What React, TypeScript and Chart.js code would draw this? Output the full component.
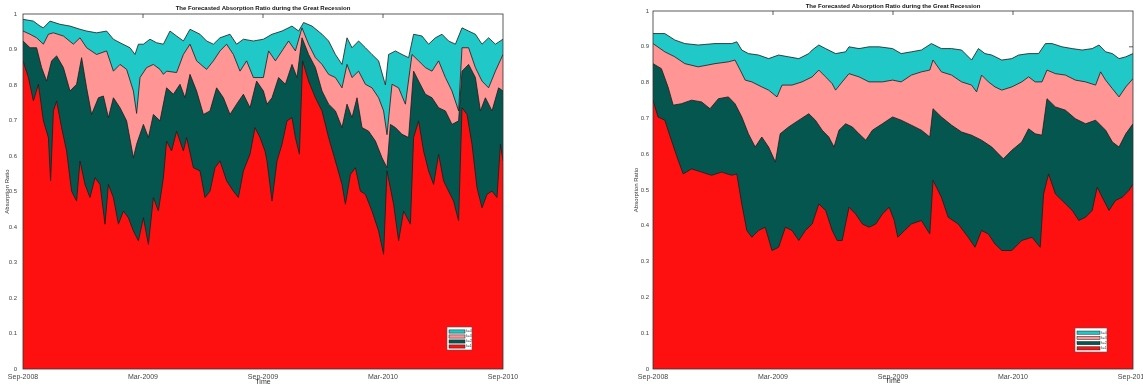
import React, { useEffect, useRef } from "react";
import { Chart, registerables } from "chart.js";

Chart.register(...registerables);

const chartTitle = "The Forecasted Absorption Ratio during the Great Recession";
const xAxisTitle = "Time";
const yAxisTitle = "Absorption Ratio";
const xTickLabels = ["Sep-2008", "Mar-2009", "Sep-2009", "Mar-2010", "Sep-2010"];
const seriesNames = ["k=1", "k=2", "k=3", "k=4"];

// ---------- Left panel (months since Sep-2008, cumulative absorption ratio) ----------
const leftK1Months = [0, 0.27, 0.52, 0.77, 1.02, 1.27, 1.38, 1.52, 1.68, 1.93, 2.18, 2.43, 2.68, 2.85, 3.1, 3.35, 3.6, 3.85, 4.1, 4.27, 4.52, 4.77, 5.02, 5.27, 5.52, 5.77, 6.02, 6.27, 6.52, 6.77, 7.02, 7.18, 7.43, 7.68, 8.02, 8.18, 8.52, 8.85, 9.1, 9.35, 9.6, 9.85, 10.18, 10.52, 10.77, 11.02, 11.35, 11.6, 11.85, 12.1,
  12.2, 12.45, 12.7, 12.95, 13.2, 13.45, 13.62, 13.82, 13.98, 14.28, 14.62, 14.95, 15.28, 15.62, 15.95, 16.12, 16.37, 16.62, 16.87, 17.12, 17.45, 17.78, 18.03, 18.2, 18.53, 18.78, 19.03, 19.37, 19.53, 19.78, 20.03, 20.28, 20.53, 20.78, 21.03, 21.28, 21.53, 21.78, 21.95, 22.2, 22.45, 22.7, 22.95, 23.2, 23.45, 23.7, 23.87, 24];
const leftK1Ratio = [0.868, 0.821, 0.755, 0.802, 0.699, 0.652, 0.53, 0.727, 0.755, 0.68, 0.614, 0.501, 0.473, 0.586, 0.52, 0.483, 0.539, 0.52, 0.408, 0.52, 0.483, 0.408, 0.445, 0.426, 0.389, 0.361, 0.426, 0.351, 0.483, 0.445, 0.539, 0.642, 0.614, 0.67, 0.614, 0.652, 0.567, 0.558, 0.483, 0.501, 0.567, 0.586, 0.53, 0.501, 0.483, 0.558, 0.605, 0.68, 0.652, 0.614,
  0.586, 0.473, 0.586, 0.633, 0.699, 0.708, 0.652, 0.605, 0.868, 0.811, 0.764, 0.727, 0.652, 0.586, 0.52, 0.464, 0.548, 0.567, 0.501, 0.492, 0.445, 0.389, 0.323, 0.558, 0.464, 0.361, 0.445, 0.408, 0.652, 0.699, 0.614, 0.558, 0.52, 0.605, 0.53, 0.501, 0.473, 0.417, 0.736, 0.717, 0.633, 0.511, 0.454, 0.492, 0.501, 0.483, 0.633, 0.586];

const leftK2Months = [0, 0.35, 0.68, 0.93, 1.18, 1.43, 1.68, 2.02, 2.35, 2.68, 2.93, 3.18, 3.43, 3.77, 4.02, 4.27, 4.52, 4.85, 5.18, 5.52, 5.68, 6.02, 6.27, 6.52, 6.85, 7.18, 7.52, 7.85, 8.1, 8.35, 8.68, 9.02, 9.35, 9.68, 10.02, 10.35, 10.68, 11.02, 11.35, 11.68, 12.02,
  12.2, 12.45, 12.78, 13.12, 13.45, 13.7, 13.95, 14.28, 14.62, 14.95, 15.28, 15.62, 15.95, 16.2, 16.45, 16.7, 16.95, 17.28, 17.62, 17.95, 18.2, 18.37, 18.62, 18.95, 19.28, 19.53, 19.78, 20.12, 20.45, 20.78, 21.12, 21.45, 21.78, 21.95, 22.28, 22.62, 22.87, 23.12, 23.45, 23.78, 24];
const leftK2Ratio = [0.924, 0.905, 0.905, 0.849, 0.811, 0.868, 0.882, 0.849, 0.783, 0.802, 0.877, 0.792, 0.717, 0.764, 0.769, 0.708, 0.764, 0.736, 0.699, 0.595, 0.633, 0.689, 0.652, 0.717, 0.699, 0.792, 0.774, 0.802, 0.764, 0.83, 0.783, 0.717, 0.727, 0.792, 0.764, 0.717, 0.746, 0.774, 0.736, 0.811, 0.783,
  0.746, 0.764, 0.821, 0.802, 0.858, 0.821, 0.933, 0.886, 0.849, 0.783, 0.746, 0.727, 0.68, 0.746, 0.708, 0.764, 0.68, 0.67, 0.642, 0.595, 0.567, 0.689, 0.68, 0.661, 0.652, 0.839, 0.811, 0.774, 0.764, 0.736, 0.727, 0.689, 0.699, 0.839, 0.858, 0.821, 0.727, 0.764, 0.727, 0.792, 0.783];

const leftK3Months = [0, 0.35, 0.68, 1.02, 1.27, 1.52, 2.02, 2.52, 2.85, 3.18, 3.68, 4.18, 4.52, 4.85, 5.18, 5.52, 5.68, 5.85, 6.18, 6.52, 6.85, 7.02, 7.18, 7.68, 8.02, 8.35, 8.68, 9.18, 9.52, 9.85, 10.18, 10.52, 10.85, 11.18, 11.52, 12.02,
  12.28, 12.62, 12.95, 13.28, 13.62, 13.95, 14.28, 14.62, 14.95, 15.28, 15.62, 15.95, 16.2, 16.45, 16.78, 17.12, 17.45, 17.78, 18.03, 18.2, 18.45, 18.78, 19.12, 19.45, 19.78, 20.12, 20.45, 20.78, 21.12, 21.45, 21.78, 21.95, 22.28, 22.62, 22.95, 23.28, 23.62, 24];
const leftK3Ratio = [0.952, 0.943, 0.933, 0.915, 0.943, 0.947, 0.938, 0.915, 0.933, 0.905, 0.886, 0.896, 0.839, 0.858, 0.844, 0.783, 0.72, 0.821, 0.849, 0.858, 0.844, 0.83, 0.839, 0.835, 0.886, 0.915, 0.868, 0.844, 0.868, 0.896, 0.915, 0.886, 0.839, 0.868, 0.821, 0.821,
  0.896, 0.868, 0.896, 0.924, 0.896, 0.961, 0.915, 0.877, 0.858, 0.83, 0.821, 0.792, 0.858, 0.821, 0.839, 0.802, 0.792, 0.764, 0.727, 0.66, 0.802, 0.792, 0.746, 0.886, 0.868, 0.849, 0.839, 0.868, 0.821, 0.783, 0.727, 0.905, 0.905, 0.849, 0.811, 0.792, 0.839, 0.886];

const leftK4Months = [0, 0.52, 0.85, 1.02, 1.35, 1.85, 2.35, 2.85, 3.18, 3.68, 4.18, 4.52, 4.85, 5.35, 5.6, 5.77, 6.02, 6.35, 6.68, 7.02, 7.35, 7.68, 8.02, 8.35, 8.85, 9.18, 9.52, 9.85, 10.35, 10.68, 11.02, 11.52, 12.02,
  12.45, 12.95, 13.45, 13.78, 14.03, 14.45, 14.95, 15.28, 15.62, 15.95, 16.2, 16.45, 16.78, 17.12, 17.45, 17.78, 18.12, 18.28, 18.62, 18.95, 19.28, 19.53, 19.95, 20.28, 20.62, 20.95, 21.28, 21.62, 21.95, 22.28, 22.62, 22.95, 23.28, 23.62, 24];
const leftK4Ratio = [0.985, 0.98, 0.966, 0.961, 0.98, 0.971, 0.966, 0.957, 0.952, 0.947, 0.952, 0.929, 0.919, 0.905, 0.886, 0.915, 0.915, 0.929, 0.919, 0.915, 0.952, 0.938, 0.924, 0.957, 0.943, 0.924, 0.915, 0.933, 0.943, 0.915, 0.929, 0.924, 0.929,
  0.943, 0.952, 0.966, 0.952, 0.976, 0.966, 0.943, 0.924, 0.886, 0.858, 0.933, 0.905, 0.924, 0.905, 0.886, 0.868, 0.8, 0.886, 0.896, 0.886, 0.877, 0.943, 0.938, 0.915, 0.933, 0.943, 0.924, 0.915, 0.961, 0.952, 0.943, 0.915, 0.933, 0.915, 0.929];

// ---------- Right panel ----------
const rightK1Months = [0, 0.25, 0.59, 0.92, 1.26, 1.51, 1.93, 2.43, 2.93, 3.43, 3.94, 4.19, 4.44, 4.69, 4.94, 5.28, 5.61, 5.95, 6.28, 6.62, 6.95, 7.29, 7.62, 7.96, 8.29, 8.63, 8.96, 9.21, 9.46, 9.8, 10.13, 10.47, 10.8, 11.14, 11.47, 11.81, 12.06,
  12.24, 12.58, 12.92, 13.42, 13.84, 14.0, 14.42, 14.76, 15.26, 15.76, 16.1, 16.43, 16.77, 17.1, 17.44, 17.94, 18.44, 18.95, 19.36, 19.53, 19.78, 20.12, 20.45, 20.96, 21.29, 21.63, 21.96, 22.21, 22.46, 22.8, 23.13, 23.47, 23.8, 24];
const rightK1Ratio = [0.751, 0.704, 0.695, 0.639, 0.583, 0.545, 0.559, 0.55, 0.541, 0.55, 0.541, 0.545, 0.461, 0.387, 0.368, 0.387, 0.396, 0.331, 0.34, 0.396, 0.387, 0.359, 0.387, 0.405, 0.461, 0.443, 0.387, 0.359, 0.359, 0.452, 0.433, 0.405, 0.396, 0.405, 0.433, 0.452, 0.415,
  0.368, 0.387, 0.405, 0.415, 0.377, 0.527, 0.48, 0.424, 0.405, 0.368, 0.34, 0.387, 0.377, 0.349, 0.331, 0.331, 0.359, 0.368, 0.34, 0.489, 0.545, 0.489, 0.471, 0.443, 0.415, 0.424, 0.443, 0.508, 0.48, 0.443, 0.471, 0.48, 0.499, 0.517];

const rightK2Months = [0, 0.42, 0.75, 1.01, 1.42, 1.93, 2.43, 2.85, 3.27, 3.77, 4.1, 4.44, 4.77, 5.11, 5.44, 5.78, 6.12, 6.36, 6.78, 7.29, 7.79, 8.12, 8.46, 8.79, 9.05, 9.3, 9.63, 9.97, 10.3, 10.64, 10.97, 11.47, 11.98,
  12.41, 12.92, 13.42, 13.84, 14.0, 14.42, 14.93, 15.43, 15.93, 16.43, 16.94, 17.27, 17.52, 17.94, 18.44, 18.78, 19.11, 19.45, 19.7, 20.12, 20.62, 21.12, 21.63, 22.13, 22.63, 22.97, 23.3, 23.64, 24];
const rightK2Ratio = [0.853, 0.839, 0.788, 0.737, 0.741, 0.751, 0.746, 0.727, 0.755, 0.76, 0.741, 0.704, 0.657, 0.62, 0.648, 0.62, 0.578, 0.657, 0.676, 0.695, 0.713, 0.695, 0.667, 0.648, 0.62, 0.667, 0.685, 0.676, 0.657, 0.639, 0.667, 0.685, 0.704,
  0.695, 0.681, 0.667, 0.648, 0.727, 0.704, 0.681, 0.662, 0.653, 0.639, 0.62, 0.601, 0.587, 0.611, 0.634, 0.671, 0.657, 0.653, 0.755, 0.732, 0.723, 0.699, 0.685, 0.695, 0.667, 0.634, 0.62, 0.657, 0.685];

const rightK3Months = [0, 0.59, 1.09, 1.59, 2.26, 3.1, 3.77, 4.1, 4.36, 4.61, 4.94, 5.44, 5.78, 6.2, 6.45, 6.95, 7.45, 7.96, 8.29, 8.63, 8.96, 9.13, 9.46, 9.8, 10.3, 10.8, 11.47, 11.98,
  12.41, 12.92, 13.42, 13.84, 14.0, 14.42, 14.93, 15.43, 15.93, 16.18, 16.43, 16.77, 17.1, 17.44, 17.94, 18.44, 18.78, 19.11, 19.45, 19.7, 20.12, 20.62, 21.12, 21.63, 22.13, 22.38, 22.63, 22.97, 23.3, 23.64, 24];
const rightK3Ratio = [0.909, 0.886, 0.872, 0.853, 0.844, 0.853, 0.858, 0.863, 0.835, 0.807, 0.802, 0.788, 0.779, 0.76, 0.793, 0.793, 0.802, 0.816, 0.835, 0.816, 0.797, 0.779, 0.802, 0.825, 0.816, 0.802, 0.802, 0.807,
  0.802, 0.821, 0.83, 0.835, 0.863, 0.83, 0.821, 0.802, 0.793, 0.774, 0.821, 0.802, 0.788, 0.779, 0.788, 0.802, 0.816, 0.802, 0.802, 0.835, 0.825, 0.821, 0.807, 0.802, 0.793, 0.83, 0.807, 0.783, 0.76, 0.788, 0.811];

const rightK4Months = [0, 0.59, 1.09, 1.59, 2.26, 3.1, 3.94, 4.19, 4.44, 4.77, 5.28, 5.78, 6.28, 6.78, 7.29, 7.79, 7.96, 8.29, 8.63, 9.13, 9.63, 9.8, 10.3, 10.8, 11.31, 11.98,
  12.41, 12.92, 13.42, 13.92, 14.42, 14.93, 15.43, 15.93, 16.27, 16.6, 16.94, 17.44, 17.94, 18.28, 18.78, 19.28, 19.62, 19.95, 20.45, 20.96, 21.46, 21.96, 22.3, 22.63, 22.97, 23.3, 23.64, 24];
const rightK4Ratio = [0.937, 0.937, 0.919, 0.909, 0.905, 0.909, 0.909, 0.914, 0.891, 0.881, 0.877, 0.867, 0.877, 0.872, 0.867, 0.881, 0.891, 0.905, 0.895, 0.881, 0.886, 0.9, 0.895, 0.9, 0.9, 0.895,
  0.881, 0.886, 0.891, 0.909, 0.895, 0.895, 0.891, 0.863, 0.895, 0.881, 0.877, 0.863, 0.867, 0.877, 0.881, 0.881, 0.909, 0.909, 0.9, 0.895, 0.891, 0.895, 0.905, 0.886, 0.881, 0.867, 0.872, 0.881];

// ---------- Styling ----------
const FONT = "'Liberation Sans', Arial, Helvetica, sans-serif";
const FILLS = ["#ff1010", "#05564f", "#ff9595", "#20c8c8"];
const EDGE = "#1c1c1c";

const leftSeries = [
  { months: leftK1Months, ratio: leftK1Ratio },
  { months: leftK2Months, ratio: leftK2Ratio },
  { months: leftK3Months, ratio: leftK3Ratio },
  { months: leftK4Months, ratio: leftK4Ratio },
];
const rightSeries = [
  { months: rightK1Months, ratio: rightK1Ratio },
  { months: rightK2Months, ratio: rightK2Ratio },
  { months: rightK3Months, ratio: rightK3Ratio },
  { months: rightK4Months, ratio: rightK4Ratio },
];

const leftLayout = {
  left: 0, width: 560, padLeft: 0, padRight: 57, padTop: 14, axisW: 23, axisH: 16, yTickPad: 6,
  yTitleX: 7, titleY: 8, timeY: 382, legendRight: 31, legendBottom: 19, legendW: 25, legendH: 23,
};
const rightLayout = {
  left: 600, width: 543, padLeft: 30, padRight: 10, padTop: 11, axisW: 23, axisH: 16, yTickPad: 4,
  yTitleX: 36, titleY: 6, timeY: 381, legendRight: 26, legendBottom: 17, legendW: 32, legendH: 24,
};

const decorPlugin = {
  id: "decor",
  beforeDatasetsDraw(chart: any, _args: any, o: any) {
    const { ctx, chartArea: a, scales } = chart;
    ctx.save();
    ctx.strokeStyle = "#333";
    ctx.lineWidth = 0.8;
    ctx.beginPath();
    for (let m = 6; m < 24; m += 6) {
      const x = scales.x.getPixelForValue(m);
      ctx.moveTo(x, a.top);
      ctx.lineTo(x, a.top + 4);
    }
    for (let v = 1; v < 10; v++) {
      const y = scales.y.getPixelForValue(v / 10);
      ctx.moveTo(a.right, y);
      ctx.lineTo(a.right - 4, y);
    }
    ctx.stroke();
    ctx.restore();
  },
  afterDatasetsDraw(chart: any, _args: any, o: any) {
    const { ctx, chartArea: a } = chart;
    ctx.save();
    ctx.strokeStyle = "#333";
    ctx.lineWidth = 0.8;
    ctx.strokeRect(a.left, a.top, a.right - a.left, a.bottom - a.top);

    // legend box
    const w = o.legendW, h = o.legendH;
    const bx = a.right - o.legendRight - w;
    const by = a.bottom - o.legendBottom - h;
    ctx.fillStyle = "#fff";
    ctx.fillRect(bx, by, w, h);
    ctx.strokeStyle = "#555";
    ctx.lineWidth = 0.6;
    ctx.strokeRect(bx, by, w, h);
    const rowH = (h - 3) / 4;
    const swW = w - 9;
    for (let r = 0; r < 4; r++) {
      const idx = 3 - r;
      const cy = by + 2 + rowH * r + rowH / 2;
      ctx.fillStyle = FILLS[idx];
      ctx.fillRect(bx + 2, cy - 1.6, swW, 3.2);
      ctx.strokeStyle = EDGE;
      ctx.lineWidth = 0.5;
      ctx.strokeRect(bx + 2, cy - 1.6, swW, 3.2);
      ctx.fillStyle = "#333";
      ctx.font = `3.5px ${FONT}`;
      ctx.textAlign = "left";
      ctx.textBaseline = "middle";
      ctx.fillText(seriesNames[idx], bx + swW + 3, cy);
    }
    ctx.restore();
  },
  afterDraw(chart: any, _args: any, o: any) {
    const { ctx, chartArea: a } = chart;
    const cx = (a.left + a.right) / 2;
    const cy = (a.top + a.bottom) / 2;
    ctx.save();
    ctx.fillStyle = "#111";
    ctx.textAlign = "center";
    ctx.textBaseline = "middle";
    ctx.font = `bold 6px ${FONT}`;
    ctx.fillText(chartTitle, cx, o.titleY);
    ctx.fillStyle = "#333";
    ctx.font = `7px ${FONT}`;
    ctx.fillText(xAxisTitle, cx, o.timeY);
    ctx.translate(o.yTitleX, cy);
    ctx.rotate(-Math.PI / 2);
    ctx.font = `6px ${FONT}`;
    ctx.fillText(yAxisTitle, 0, 0);
    ctx.restore();
  },
};

function AbsorptionPanel({ layout, series }: { layout: any; series: { months: number[]; ratio: number[] }[] }) {
  const ref = useRef<HTMLCanvasElement>(null);
  useEffect(() => {
    const canvas = ref.current;
    if (!canvas) return;
    const datasets = series.map((s, i) => ({
      label: seriesNames[i],
      data: s.months.map((m, j) => ({ x: m, y: s.ratio[j] })),
      borderColor: EDGE,
      borderWidth: 0.8,
      backgroundColor: FILLS[i],
      fill: "origin",
      pointRadius: 0,
      pointHoverRadius: 0,
      tension: 0,
    }));
    const chart = new Chart(canvas, {
      type: "line",
      data: { datasets } as any,
      options: {
        responsive: false,
        animation: false,
        devicePixelRatio: 1,
        events: [],
        layout: { padding: { left: layout.padLeft, right: layout.padRight, top: layout.padTop, bottom: 0 } },
        plugins: {
          legend: { display: false },
          tooltip: { enabled: false },
          title: { display: false },
          decor: layout,
        } as any,
        scales: {
          x: {
            type: "linear",
            min: 0,
            max: 24,
            grid: { display: false, drawTicks: false },
            border: { display: false },
            ticks: {
              stepSize: 6,
              autoSkip: false,
              maxRotation: 0,
              padding: 4,
              color: "#444",
              font: { size: 7, family: FONT },
              callback: (v: any) => xTickLabels[Math.round(Number(v) / 6)] ?? "",
            },
            afterFit: (s: any) => {
              s.height = layout.axisH;
              s.paddingLeft = 0;
              s.paddingRight = 0;
            },
          },
          y: {
            type: "linear",
            min: 0,
            max: 1,
            grid: { display: false, drawTicks: false },
            border: { display: false },
            ticks: {
              stepSize: 0.1,
              padding: layout.yTickPad,
              color: "#444",
              font: { size: 6, family: FONT },
              callback: (v: any) => String(Number(Number(v).toFixed(1))),
            },
            afterFit: (s: any) => {
              s.width = layout.axisW;
              s.paddingTop = 0;
              s.paddingBottom = 0;
            },
          },
        },
      } as any,
      plugins: [decorPlugin as any],
    });
    return () => chart.destroy();
  }, [layout, series]);
  return (
    <canvas
      ref={ref}
      width={layout.width}
      height={385}
      style={{ position: "absolute", left: layout.left, top: 0, width: layout.width, height: 385 }}
    />
  );
}

export default function App() {
  return (
    <div style={{ position: "absolute", left: 0, top: 0, width: 1143, height: 385, background: "#fff", overflow: "hidden" }}>
      <AbsorptionPanel layout={leftLayout} series={leftSeries} />
      <AbsorptionPanel layout={rightLayout} series={rightSeries} />
    </div>
  );
}
